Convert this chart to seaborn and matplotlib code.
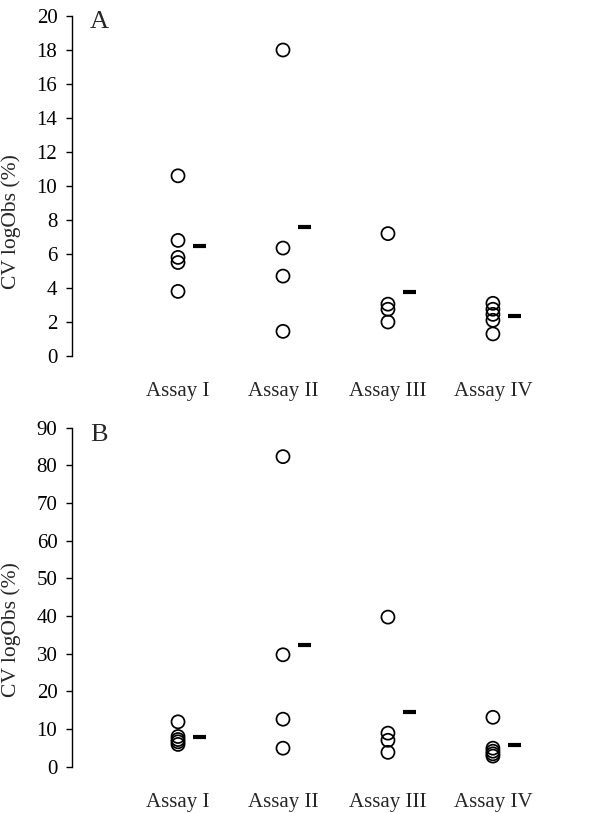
import numpy as np
import pandas as pd
import matplotlib
matplotlib.use("Agg")
import matplotlib.pyplot as plt
import seaborn as sns

# Categories
assays = ["Assay I", "Assay II", "Assay III", "Assay IV"]

# Panel A: CV logObs (%) values per assay
a_assay1 = [10.6, 6.8, 5.8, 5.5, 3.8]
a_assay2 = [18.0, 6.35, 4.7, 1.45]
a_assay3 = [7.2, 3.05, 2.75, 2.0]
a_assay4 = [3.1, 2.75, 2.45, 2.1, 1.3]
a_means = [6.5, 7.6, 3.75, 2.35]

# Panel B
b_assay1 = [11.9, 8.0, 7.2, 6.6, 5.9]
b_assay2 = [82.3, 29.7, 12.6, 4.9]
b_assay3 = [39.7, 8.9, 7.0, 3.8]
b_assay4 = [13.1, 4.9, 4.1, 3.4, 2.8]
b_means = [7.9, 32.2, 14.6, 5.8]


def to_frame(groups):
    rows = []
    for name, vals in zip(assays, groups):
        for v in vals:
            rows.append({"assay": name, "cv": v})
    return pd.DataFrame(rows)


df_a = to_frame([a_assay1, a_assay2, a_assay3, a_assay4])
df_b = to_frame([b_assay1, b_assay2, b_assay3, b_assay4])

sns.set_style("ticks")
plt.rcParams["font.family"] = ["Liberation Serif", "DejaVu Serif"]

fig = plt.figure(figsize=(6, 8.13), dpi=100)

# axes placement (figure fractions)
left, width = 0.12, 0.859
ax_a = fig.add_axes([left, 0.5621, width, 0.4182])
ax_b = fig.add_axes([left, 0.0570, width, 0.4170])


def draw_panel(ax, df, means, ymax, ystep, letter, letter_y, label_y):
    sns.stripplot(data=df, x="assay", y="cv", order=assays, jitter=False,
                  size=9.4, facecolor="none", edgecolor="black",
                  linewidth=1.25, ax=ax)
    for coll in ax.collections:
        coll.set_facecolor("none")
    # mean dash, offset to the right of each column
    idx = np.arange(len(assays))
    ax.hlines(means, idx + 0.143, idx + 0.267, colors="black", linewidth=3.0)

    ax.set_xlim(-1.01, 3.9)
    ax.set_ylim(0, ymax)
    ax.set_yticks(np.arange(0, ymax + 1, ystep))
    ax.tick_params(axis="y", labelsize=15, length=4.5, width=1.0, pad=6,
                   direction="out", colors="black")
    ax.tick_params(axis="x", labelsize=15, length=0, pad=19)
    for s in ["top", "right", "bottom"]:
        ax.spines[s].set_visible(False)
    ax.spines["left"].set_linewidth(1.0)
    ax.spines["left"].set_color("black")
    ax.set_xlabel("")
    ax.set_ylabel("CV logObs (%)", fontsize=15.5)
    ax.yaxis.set_label_coords(-0.099, label_y)
    ax.text(0.035, letter_y, letter,
            transform=ax.transAxes, fontsize=19, va="baseline", ha="left")


draw_panel(ax_a, df_a, a_means, 20, 2, "A", 0.966, 0.394)
draw_panel(ax_b, df_b, b_means, 90, 10, "B", 0.962, 0.403)

fig.savefig("out.png", dpi=100)
